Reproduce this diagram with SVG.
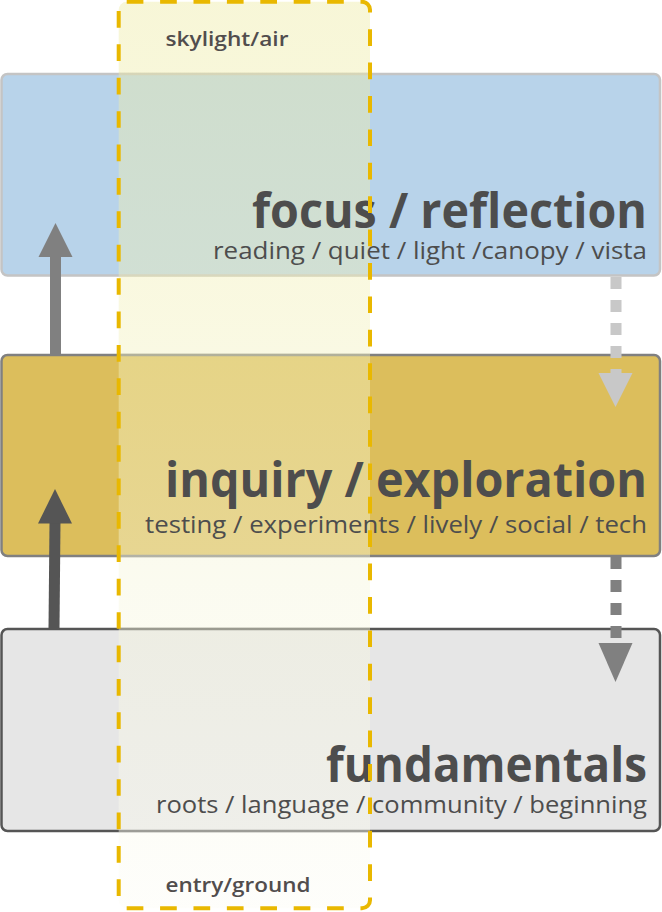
<svg xmlns="http://www.w3.org/2000/svg" width="662" height="912" viewBox="0 0 662 912">
  <defs>
    <style>
      .box { stroke-width: 2.5; }
      .title { font-family: "Open Sans", "Liberation Sans", sans-serif; font-weight: 700; font-size: 48px; fill: #4d4d4d; text-anchor: end; }
      .sub { font-family: "Open Sans", "Liberation Sans", sans-serif; font-weight: 400; font-size: 23px; fill: #4d4d4d; text-anchor: end; }
      .label { font-family: "Open Sans", "Liberation Sans", sans-serif; font-weight: 600; font-size: 19.5px; fill: #514d4d; }
      .solid { stroke-width: 11; fill: none; }
      .dashed { stroke-width: 11; fill: none; stroke-dasharray: 12 11; }
    </style>
    <linearGradient id="colFill" gradientUnits="userSpaceOnUse" x1="0" y1="2" x2="0" y2="908">
      <stop offset="0" stop-color="#edeba3" stop-opacity="0.43"/>
      <stop offset="0.33" stop-color="#f2f0b8" stop-opacity="0.43"/>
      <stop offset="0.65" stop-color="#f6f6dd" stop-opacity="0.43"/>
      <stop offset="1" stop-color="#fcfcf5" stop-opacity="0.43"/>
    </linearGradient>
    <rect id="colShape" x="118.7" y="1.8" width="251.3" height="906.5" rx="8"/>
    <clipPath id="clipFocus"><rect x="0" y="72.5" width="662" height="204.5" rx="7"/></clipPath>
    <clipPath id="clipInquiry"><rect x="0" y="353.5" width="662" height="204" rx="7"/></clipPath>
    <clipPath id="clipFund"><rect x="0" y="627.5" width="662" height="205" rx="7"/></clipPath>
  </defs>

  <rect width="662" height="912" fill="#ffffff"/>

  <g id="column-band">
    <use href="#colShape" fill="url(#colFill)"/>
  </g>

  <g id="node-focus">
    <rect class="box" x="1.5" y="74" width="658.5" height="201.5" rx="6" fill="#b8d3ea" stroke="#c4c4c4"/>
    <use href="#colShape" fill="url(#colFill)" clip-path="url(#clipFocus)"/>
    <text class="title" x="647" y="228" textLength="395" lengthAdjust="spacingAndGlyphs">focus / reflection</text>
    <text class="sub" x="647" y="259" textLength="434" lengthAdjust="spacingAndGlyphs">reading / quiet / light /canopy / vista</text>
  </g>

  <g id="node-inquiry">
    <rect class="box" x="1.5" y="355" width="658.5" height="201" rx="6" fill="#dcbe5c" stroke="#808080"/>
    <use href="#colShape" fill="url(#colFill)" clip-path="url(#clipInquiry)"/>
    <text class="title" x="647" y="497" textLength="482" lengthAdjust="spacingAndGlyphs">inquiry / exploration</text>
    <text class="sub" x="647" y="533" textLength="502" lengthAdjust="spacingAndGlyphs">testing / experiments / lively / social / tech</text>
  </g>

  <g id="node-fundamentals">
    <rect class="box" x="1.5" y="629" width="658.5" height="202" rx="6" fill="#e6e6e6" stroke="#555555"/>
    <use href="#colShape" fill="url(#colFill)" clip-path="url(#clipFund)"/>
    <text class="title" x="647" y="782" textLength="321" lengthAdjust="spacingAndGlyphs">fundamentals</text>
    <text class="sub" x="647" y="813" textLength="491" lengthAdjust="spacingAndGlyphs">roots / language / community / beginning</text>
  </g>

  <g id="connectors">
    <line class="solid" x1="55.5" y1="354" x2="55.5" y2="256" stroke="#808080"/>
    <polygon points="38.5,257 72.5,257 55.5,223" fill="#808080"/>
    <line class="solid" x1="54" y1="628" x2="55" y2="522" stroke="#555555"/>
    <polygon points="38,523.5 72,523.5 55,489" fill="#555555"/>
    <line class="dashed" x1="616" y1="277" x2="616" y2="373" stroke="#c8c8c8"/>
    <polygon points="598.5,373 632.5,373 615.5,407" fill="#c8c8c8"/>
    <line class="dashed" x1="616" y1="557" x2="616" y2="644" stroke="#808080"/>
    <polygon points="598.5,643 632.5,643 615.5,682" fill="#808080"/>
  </g>

  <g id="node-column">
    <use href="#colShape" fill="none" stroke="#e9b800" stroke-width="4" stroke-dasharray="16.7 16.7"/>
    <text class="label" x="165.5" y="46" textLength="123" lengthAdjust="spacingAndGlyphs">skylight/air</text>
    <text class="label" x="165.5" y="892" textLength="145" lengthAdjust="spacingAndGlyphs">entry/ground</text>
  </g>
</svg>
